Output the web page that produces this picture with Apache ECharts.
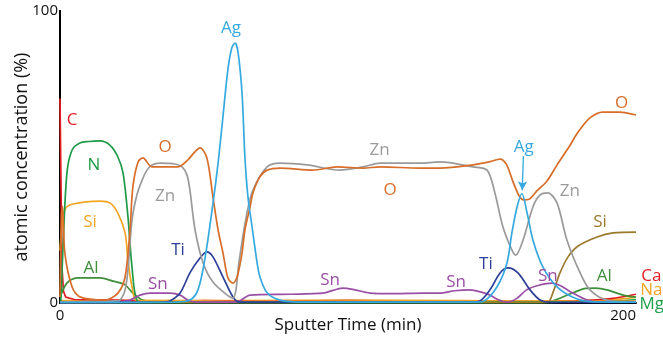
<!DOCTYPE html>
<html>
<head>
<meta charset="utf-8">
<script src="https://cdn.jsdelivr.net/npm/echarts@6/dist/echarts.min.js"></script>
<style>
html,body{margin:0;padding:0;background:#fff;}
#chart{width:663px;height:338px;}
</style>
</head>
<body>
<div id="chart"></div>
<script>
// Sputter time (min) / atomic concentration (%) pairs
const C  = [[0,70],[0.3,45],[0.7,12],[1.2,4],[2,2],[5,1.2],[20,1],[35,0.5],[50,0.8],[70,0.6],[100,0.8],[130,0.6],[160,0.5],[200,0.5]];
const N  = [[0,0.5],[0.3,1],[1,18],[2.4,44.5],[4.2,52.4],[6.9,54.8],[10,55.3],[13.9,55.5],[17.4,54],[20.1,50],[21.9,44.5],[23.6,29.5],[25,12.3],[26.7,1],[30,0.3],[200,0.3]];
const SiA = [[0,18],[1.7,32],[4.5,33.9],[13.9,34.9],[17.4,34.2],[20.1,30.8],[22.6,24],[23.6,14.7],[25,5.5],[26.7,0.8],[35,0.8],[60,0.6],[120,0.7],[200,0.6]];
const Al = [[0,2],[2.4,6.8],[5.9,8.6],[13.9,8.6],[18.4,7.5],[22.6,6.2],[25.3,3.4],[28.8,1],[35,0.3],[165,0.3],[170,0.5],[177.8,3.4],[182.6,5],[186,5.1],[190.3,4.4],[195.5,2.7],[200,2]];
const O  = [[0,2],[0.5,30],[0.9,33],[1.7,17],[4.2,5.5],[6.9,2.1],[15.6,1],[20.1,3.4],[22.6,8.9],[24.3,25],[25.3,39.7],[27.1,48.3],[28.8,49.7],[31.9,46.6],[36.5,46.6],[41,46.6],[44.4,49],[46.5,51.4],[48.6,53.1],[51,49.7],[53.1,36.3],[54.9,25],[56.6,17.1],[58.3,8.6],[60.1,6.8],[61.5,8.9],[63.2,17.1],[64.2,25],[66,32.9],[67,37.7],[69.4,43.2],[71.9,45.5],[76.4,46.2],[87.8,45.5],[96.2,46.6],[105.2,46.2],[111.1,46.6],[125,46.2],[131.9,46.2],[143.4,47.3],[149.3,48.4],[152.8,49.3],[155,47.5],[157.3,41.5],[159.5,36.5],[161,35.3],[162.8,35.5],[165.6,38.4],[169.1,41.8],[172.6,47.3],[177.1,54],[179.5,58],[184,63.4],[188.5,65.4],[194.4,65.4],[200,64.4]];
const Zn = [[0,0.3],[19.1,0.7],[20.8,1],[22.6,4.5],[23.6,11.3],[25,28.4],[26.7,37],[28.5,42.1],[30.2,45.5],[31.9,47.3],[34.7,47.9],[39.9,47.6],[42.4,46.6],[44.1,43.8],[45.1,38.7],[46.9,25],[49.7,13.7],[53.1,7.2],[58.3,2.5],[60.1,1.7],[61.1,4.5],[62.1,13.7],[64.9,30.8],[67,38.7],[71.9,46.6],[76.4,47.9],[85.8,47.3],[97.2,45.5],[105.2,46.6],[111.1,47.9],[125,47.9],[131.9,48.3],[143.4,46.6],[148.3,45.5],[151,37.7],[153.8,26],[156.9,18.2],[158.3,16.4],[160.8,21.6],[164.2,32.9],[166.7,37],[169.4,37.7],[172.6,34.2],[176,21.6],[180.6,10.3],[184,4.5],[189.9,1],[200,0.3]];
const Ag = [[0,0.2],[40,0.3],[45.1,1],[47.9,4.5],[50.3,15],[53.1,34],[54.9,48],[56.6,64],[58.3,80],[59.7,87.5],[60.8,89],[61.8,86],[63.2,72],[64.2,50],[65.3,36],[66.7,26],[68.4,14],[69.4,9],[71.9,3.5],[76.4,1],[85,0.3],[145,0.3],[146.9,0.5],[151.7,5.5],[155.2,13.7],[156.9,24],[158.7,32.9],[160.4,37.5],[162.2,30.8],[164.2,21.6],[167.7,12.3],[172.6,5.5],[178.1,2],[184,0.5],[200,0.3]];
const Ti = [[0,0.2],[36,0.3],[38.2,0.7],[41.7,3.4],[45.1,10.3],[48.6,15.4],[51,17.5],[53.1,15.8],[56.6,8.9],[60.1,2],[62.5,0.3],[142.4,0.3],[145.8,0.7],[149.3,4.5],[152.8,10.3],[155.6,12],[159,10.3],[163.2,4.5],[166.7,1],[170,0.2],[200,0.2]];
const Sn = [[0,0.2],[18,0.2],[20.8,0.4],[24.3,1],[27.8,2.7],[31.3,3.4],[38.2,3.4],[41.7,2.7],[44.4,1],[46.9,0.3],[60.1,0.3],[62.5,0.8],[66,2.7],[80,3],[91.3,3.4],[95,4.4],[98.3,5.1],[102,4.6],[107.6,3.4],[115,3.2],[126,3.4],[131.9,3.4],[137,4.2],[142.4,4.5],[146,3.8],[149.3,2.7],[152,1.2],[155.2,0.3],[158.5,1.5],[162,4.5],[166,6],[170.8,6.8],[174,5.8],[178,3.4],[183,1],[187,0.3],[200,0.3]];
const SiB = [[0,0.2],[165,0.2],[169.4,0.3],[171.5,4.5],[173.6,10.3],[176.4,15.8],[179.9,19.5],[186.5,22.6],[192,24],[200,24.3]];
const Ca = [[0,0.3],[150,0.3],[175,0.6],[185,1],[192,1.6],[197,2.4],[200,3]];
const Na = [[0,0.8],[60,0.8],[100,1],[140,0.8],[170,0.6],[185,0.8],[195,1.4],[200,2]];
const Mg = [[0,0.1],[160,0.1],[180,0.4],[195,0.8],[200,1.2]];

// Axis ticks
const xTicks = [0, 200];
const yTicks = [0, 100];

// Annotation text and their anchor (time, concentration)
const annotations = {
  C:   [['C', 4.2, 62.7]],
  N:   [['N', 11.8, 47.3]],
  SiA: [['Si', 10.4, 27.7]],
  Al:  [['Al', 10.8, 12], ['Al', 189, 9.2]],
  O:   [['O', 36.5, 53.4], ['O', 114.6, 38.7], ['O', 195, 68.5]],
  Zn:  [['Zn', 36.5, 36.6], ['Zn', 111, 52.4], ['Zn', 177, 38.4]],
  Ti:  [['Ti', 41, 18.2], ['Ti', 147.9, 13.4]],
  Sn:  [['Sn', 34, 6.5], ['Sn', 93.8, 7.9], ['Sn', 137.5, 7.2], ['Sn', 169.4, 9.2]],
  Ag:  [['Ag', 59.4, 94.2], ['Ag', 161, 53.4]],
  SiB: [['Si', 187.5, 27.7]]
};
// Element labels placed just outside the right edge of the plot
const outsideLabels = [['Ca', 'Ca', 205.3, 9.2], ['Na', 'Na', 205.3, 4.5], ['Mg', 'Mg', 205.5, -0.3]];
const agArrow = [[160.9, 50.3], [160.5, 38.6]];

const colors = {
  C: '#e31e24', N: '#1f9a48', SiA: '#f3a524', Al: '#3e8f3a', O: '#d76d28',
  Zn: '#9a9a9a', Ag: '#35a9e0', Ti: '#2d3f98', Sn: '#9a4ea6', SiB: '#9b7a2c',
  Ca: '#e31e24', Na: '#f3a524', Mg: '#1fa04a'
};

const FONT = 'Open Sans';
const seriesDefs = [
  ['Mg', Mg], ['Na', Na], ['Ca', Ca], ['C', C], ['Al', Al], ['SiA', SiA], ['N', N],
  ['SiB', SiB], ['Sn', Sn], ['Ti', Ti], ['Zn', Zn], ['O', O], ['Ag', Ag]
];

const series = seriesDefs.map(([key, data]) => {
  const s = {
    name: key, type: 'line', data: data, showSymbol: false, symbol: 'none',
    smooth: key === 'C' ? false : 0.3, clip: false,
    lineStyle: { color: colors[key], width: 1.7 },
    itemStyle: { color: colors[key] },
    silent: true,
    markPoint: {
      symbol: 'circle', symbolSize: 0, silent: true, animation: false,
      data: (annotations[key] || []).map(a => ({
        coord: [a[1], a[2]],
        label: { show: true, position: 'inside', formatter: a[0], color: colors[key],
                 fontSize: 17, fontFamily: FONT }
      }))
    }
  };
  if (key === 'Ag') {
    s.markLine = {
      silent: true, animation: false, symbol: ['none', 'arrow'], symbolSize: [7, 9],
      lineStyle: { color: colors.Ag, width: 1.3, type: 'solid' },
      label: { show: false },
      data: [[{ coord: agArrow[0] }, { coord: agArrow[1] }]]
    };
  }
  return s;
});

const chart = echarts.init(document.getElementById('chart'), null, { renderer: 'canvas' });
chart.setOption({
  animation: false,
  backgroundColor: '#ffffff',
  grid: { left: 60, right: 27, top: 11, bottom: 35, containLabel: false, outerBoundsMode: 'none' },
  xAxis: [{
    type: 'value', min: xTicks[0], max: xTicks[1], interval: xTicks[1] - xTicks[0],
    name: 'Sputter Time (min)', nameLocation: 'middle', nameGap: 14, nameMoveOverlap: false,
    nameTextStyle: { fontSize: 17, color: '#111', fontFamily: FONT, verticalAlign: 'top' },
    axisLine: { show: false }, axisTick: { show: false }, splitLine: { show: false },
    axisLabel: { color: '#111', fontSize: 15, fontFamily: FONT, margin: 5, alignMaxLabel: 'right' }
  }, {
    type: 'value', position: 'top', min: 0, max: 200,
    axisLine: { show: true, lineStyle: { color: '#000', width: 2 } },
    axisTick: { show: false }, axisLabel: { show: false }, splitLine: { show: false }
  }],
  yAxis: [{
    type: 'value', min: yTicks[0], max: yTicks[1], interval: yTicks[1] - yTicks[0],
    name: 'atomic concentration (%)', nameLocation: 'middle', nameGap: 29, nameRotate: 90,
    nameMoveOverlap: false,
    nameTextStyle: { fontSize: 18, color: '#111', fontFamily: FONT },
    axisLine: { show: true, lineStyle: { color: '#000', width: 2 } },
    axisTick: { show: false }, splitLine: { show: false },
    axisLabel: { color: '#111', fontSize: 15, fontFamily: FONT, margin: 2 }
  }, {
    type: 'value', position: 'right', min: 0, max: 100,
    axisLine: { show: true, lineStyle: { color: '#000', width: 2 } },
    axisTick: { show: false }, axisLabel: { show: false }, splitLine: { show: false }
  }],
  series: series
});

// Place the outside-of-plot labels through the chart's own data->pixel conversion
chart.setOption({
  graphic: outsideLabels.map(([key, txt, t, v]) => {
    const p = chart.convertToPixel({ xAxisIndex: 0, yAxisIndex: 0 }, [t, v]);
    return {
      type: 'text', x: p[0], y: p[1], silent: true,
      style: { text: txt, fill: colors[key], font: '17px "' + FONT + '"', align: 'center', verticalAlign: 'middle' }
    };
  })
});
</script>
</body>
</html>
